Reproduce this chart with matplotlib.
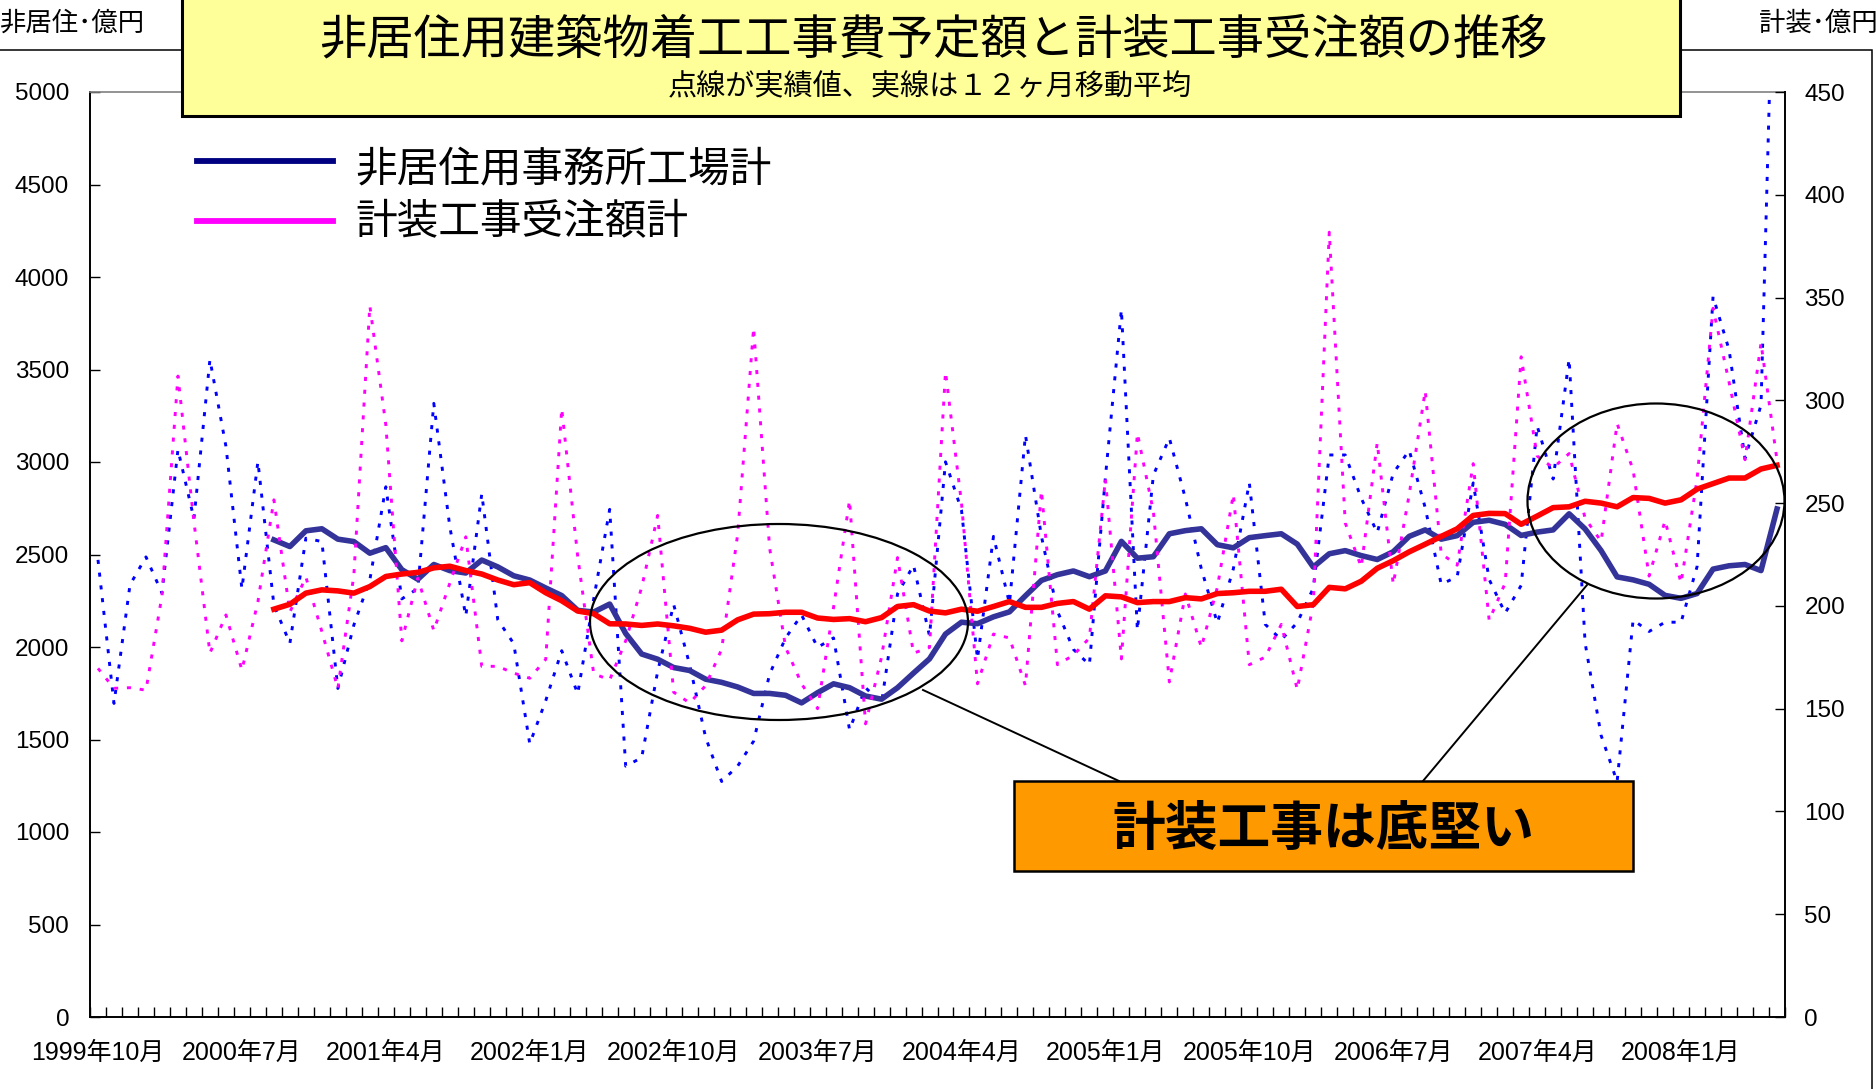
import numpy as np
import matplotlib
matplotlib.use("Agg")
import matplotlib.pyplot as plt
from matplotlib.patches import Rectangle, Ellipse
from matplotlib.lines import Line2D

plt.rcParams['font.family'] = ['Liberation Sans', 'Noto Sans CJK JP', 'DejaVu Sans']

# monthly categories, 1999/10 .. 2008/7 (106 months)
month_labels = ["1999年10月", "2000年7月", "2001年4月", "2002年1月", "2002年10月",
                "2003年7月", "2004年4月", "2005年1月", "2005年10月", "2006年7月",
                "2007年4月", "2008年1月"]

# 非居住用事務所工場計 (left axis, 億円), actual values
office_factory = [
    2471, 1695, 2336, 2487, 2291, 3067, 2693, 3554, 3085, 2314,
    3002, 2227, 2020, 2588, 2570, 1776, 2119, 2363, 2866, 2260,
    2316, 3317, 2651, 2167, 2828, 2148, 2018, 1477, 1710, 1980,
    1747, 2260, 2744, 1356, 1402, 1868, 2230, 1904, 1511, 1273,
    1356, 1491, 1853, 2049, 2173, 1998, 2049, 1553, 1780, 1698,
    2287, 2442, 2060, 3001, 2740, 1936, 2598, 2236, 3146, 2598,
    2194, 1987, 1904, 2918, 3824, 2091, 2929, 3129, 2804, 2422,
    2130, 2422, 2887, 2122, 2039, 2132, 2318, 3038, 3038, 2804,
    2618, 2939, 3063, 2753, 2339, 2380, 2887, 2365, 2183, 2333,
    3195, 2908, 3557, 2021, 1522, 1272, 2146, 2084, 2134, 2134,
    2434, 3894, 3607, 3020, 3308, 6500,
]

# 計装工事受注額計 (right axis, 億円), actual values
instrument_orders = [
    169.6, 159.9, 160.2, 159.0, 205.0, 311.8, 241.0, 177.0, 195.6, 168.8,
    202.0, 251.6, 197.0, 214.0, 187.5, 159.8, 215.0, 346.0, 288.0, 183.0,
    213.5, 188.0, 211.0, 233.6, 170.6, 170.6, 167.3, 164.8, 174.0, 296.0,
    224.0, 167.0, 164.0, 183.0, 209.0, 244.0, 158.0, 152.8, 161.2, 178.9,
    234.7, 335.3, 228.2, 179.8, 162.1, 150.0, 199.3, 251.4, 142.6, 175.1,
    223.5, 177.0, 179.8, 313.9, 250.0, 162.1, 186.3, 184.4, 161.2, 256.1,
    171.4, 176.0, 184.4, 261.7, 174.2, 284.0, 245.9, 163.0, 205.8, 179.8,
    209.0, 254.3, 171.4, 175.1, 191.0, 159.3, 201.2, 381.8, 240.3, 218.9,
    279.4, 210.5, 254.3, 304.6, 225.4, 219.8, 269.2, 193.0, 211.1, 321.2,
    272.9, 267.2, 274.1, 242.6, 231.4, 288.7, 266.1, 214.5, 241.5, 211.1,
    261.7, 344.8, 308.9, 271.1, 327.9, 270.7,
]

# 12-month moving averages, from 2000/9 (12th month) on
office_factory_ma = [
    2579, 2543, 2628, 2639, 2583, 2570, 2507, 2537, 2418,
    2366, 2446, 2413, 2400, 2470, 2433, 2385, 2362, 2319, 2278,
    2198, 2189, 2232, 2073, 1962, 1934, 1889, 1873, 1826, 1809,
    1784, 1749, 1749, 1739, 1698, 1753, 1801, 1780, 1735, 1718,
    1780, 1859, 1936, 2070, 2134, 2126, 2163, 2190, 2277, 2360,
    2391, 2411, 2380, 2411, 2571, 2480, 2488, 2612, 2629, 2639,
    2553, 2536, 2591, 2602, 2612, 2556, 2432, 2504, 2521, 2494,
    2473, 2515, 2598, 2633, 2583, 2602, 2674, 2685, 2663, 2603,
    2621, 2633, 2720, 2638, 2521, 2379, 2363, 2339, 2279, 2263,
    2289, 2421, 2439, 2446, 2413, 2746,
]

instrument_orders_ma = [
    198.4, 200.8, 206.2, 207.8, 207.3, 206.2, 209.4, 214.3, 215.5,
    216.3, 218.5, 219.3, 217.2, 215.5, 212.6, 210.3, 211.3, 206.4, 202.5,
    197.5, 196.2, 191.3, 191.2, 190.5, 191.2, 190.3, 189.1, 187.2, 188.2,
    193.2, 196.0, 196.2, 196.9, 196.9, 194.1, 193.4, 193.8, 192.3, 194.3,
    199.7, 200.6, 197.5, 196.6, 198.4, 197.4, 199.7, 202.1, 199.3, 199.3,
    201.2, 202.1, 198.4, 204.9, 204.4, 201.6, 202.1, 202.1, 204.0, 203.4,
    206.0, 206.4, 207.1, 207.1, 208.1, 199.7, 200.6, 209.0, 208.3, 212.0,
    218.3, 222.0, 226.3, 230.0, 233.8, 237.5, 244.0, 245.0, 244.9, 239.7,
    243.7, 247.8, 248.2, 250.9, 250.0, 248.2, 252.7, 252.3, 250.0, 251.6,
    256.8, 259.5, 262.2, 262.2, 266.6, 268.4,
]

W_PX, H_PX = 1876, 1089


def fx(px):
    return px / W_PX


def fy(py):
    return 1 - py / H_PX


fig = plt.figure(figsize=(W_PX / 100, H_PX / 100), dpi=100)
fig.patch.set_facecolor("white")

# outer frame of the chart sheet
fig.add_artist(Rectangle((-0.01, -0.01), fx(1872) + 0.01, fy(50) + 0.01,
                         transform=fig.transFigure, fill=False,
                         ec="black", lw=1.1, zorder=0))

ax = fig.add_axes([fx(90), fy(1017), fx(1785) - fx(90), fy(92) - fy(1017)])
ax2 = ax.twinx()

n = len(office_factory)
x = np.arange(n)
x_ma = x[n - len(office_factory_ma):]

dots = (0, (1.4, 3.0))
ax.plot(x, office_factory, color="#0000FF", lw=2.1, linestyle=dots, zorder=2)
ax.plot(x_ma, office_factory_ma, color="#333399", lw=4.0, zorder=3,
        solid_joinstyle="round")
ax2.plot(x, instrument_orders, color="#FF00FF", lw=2.1, linestyle=dots, zorder=2)
ax2.plot(x_ma, instrument_orders_ma, color="#FF0000", lw=4.0, zorder=3,
         solid_joinstyle="round")

ax.set_xlim(-0.5, n - 0.5)
ax.set_ylim(0, 5000)
ax2.set_ylim(0, 450)
ax.set_yticks(np.arange(0, 5001, 500))
ax2.set_yticks(np.arange(0, 451, 50))

ax.set_xticks(np.arange(0, n, 9)[:len(month_labels)])
ax.set_xticklabels(month_labels)
ax.set_xticks(np.arange(-0.5, n, 1), minor=True)
ax.tick_params(axis="x", which="major", length=0, pad=17, labelsize=18)
ax.tick_params(axis="x", which="minor", direction="in", length=7, width=1)
ax.tick_params(axis="y", direction="in", length=7, width=1, pad=15, labelsize=17.5)
ax2.tick_params(axis="y", direction="in", length=7, width=1, pad=14, labelsize=17.5)

for name, sp in ax.spines.items():
    sp.set_color("black")
    sp.set_linewidth(1.4)
ax.spines["top"].set_color("#808080")
ax.spines["top"].set_linewidth(1.2)
ax.spines["right"].set_visible(False)
for name in ["top", "left", "bottom"]:
    ax2.spines[name].set_visible(False)
ax2.spines["right"].set_color("black")
ax2.spines["right"].set_linewidth(1.4)

# axis unit labels at the top corners
fig.text(fx(0), fy(23), "非居住･億円", ha="left", va="center", fontsize=19,
         family=["Noto Sans CJK JP"])
fig.text(fx(1759), fy(23), "計装･億円", ha="left", va="center", fontsize=19,
         family=["Noto Sans CJK JP"])

# title box
fig.add_artist(Rectangle((fx(182), fy(116)), fx(1680) - fx(182), 0.3,
                         transform=fig.transFigure, fc="#FFFF99", ec="black",
                         lw=2.2, zorder=5))
fig.text(fx(933), fy(40), "非居住用建築物着工工事費予定額と計装工事受注額の推移",
         ha="center", va="center", fontsize=34, family=["Noto Sans CJK JP"],
         zorder=6)
fig.text(fx(930), fy(87), "点線が実績値、実線は１２ヶ月移動平均",
         ha="center", va="center", fontsize=21, family=["Noto Sans CJK JP"],
         zorder=6)

# legend drawn by hand: (label, colour, line y, text y)
legend_items = [("非居住用事務所工場計", "#000080", 161, 170),
                ("計装工事受注額計", "#FF00FF", 221, 223)]
for label, col, ypx, ty in legend_items:
    fig.add_artist(Line2D([fx(197), fx(333)], [fy(ypx), fy(ypx)],
                          transform=fig.transFigure, color=col, lw=4.2,
                          zorder=5))
    fig.text(fx(355), fy(ty), label, ha="left", va="center", fontsize=30,
             family=["Noto Sans CJK JP"], zorder=6)

# ellipses marking the two periods
fig.add_artist(Ellipse((fx(779), fy(622)), fx(378), 196 / H_PX,
                       transform=fig.transFigure, fill=False, ec="black",
                       lw=1.6, zorder=5))
fig.add_artist(Ellipse((fx(1656), fy(501)), fx(257), 195 / H_PX,
                       transform=fig.transFigure, fill=False, ec="black",
                       lw=1.6, zorder=5))
fig.add_artist(Line2D([fx(923), fx(1119)], [fy(690), fy(781)],
                      transform=fig.transFigure, color="black", lw=1.4, zorder=5))
fig.add_artist(Line2D([fx(1587), fx(1423)], [fy(585), fy(781)],
                      transform=fig.transFigure, color="black", lw=1.4, zorder=5))

# callout box
fig.add_artist(Rectangle((fx(1014), fy(871)), fx(1633) - fx(1014), fy(781) - fy(871),
                         transform=fig.transFigure, fc="#FF9900", ec="black",
                         lw=1.8, zorder=6))
fig.text(fx(1323), fy(829), "計装工事は底堅い", ha="center", va="center",
         fontsize=38, fontweight="bold", family=["Noto Sans CJK JP"], zorder=7)

fig.savefig("out.png", dpi=100)
